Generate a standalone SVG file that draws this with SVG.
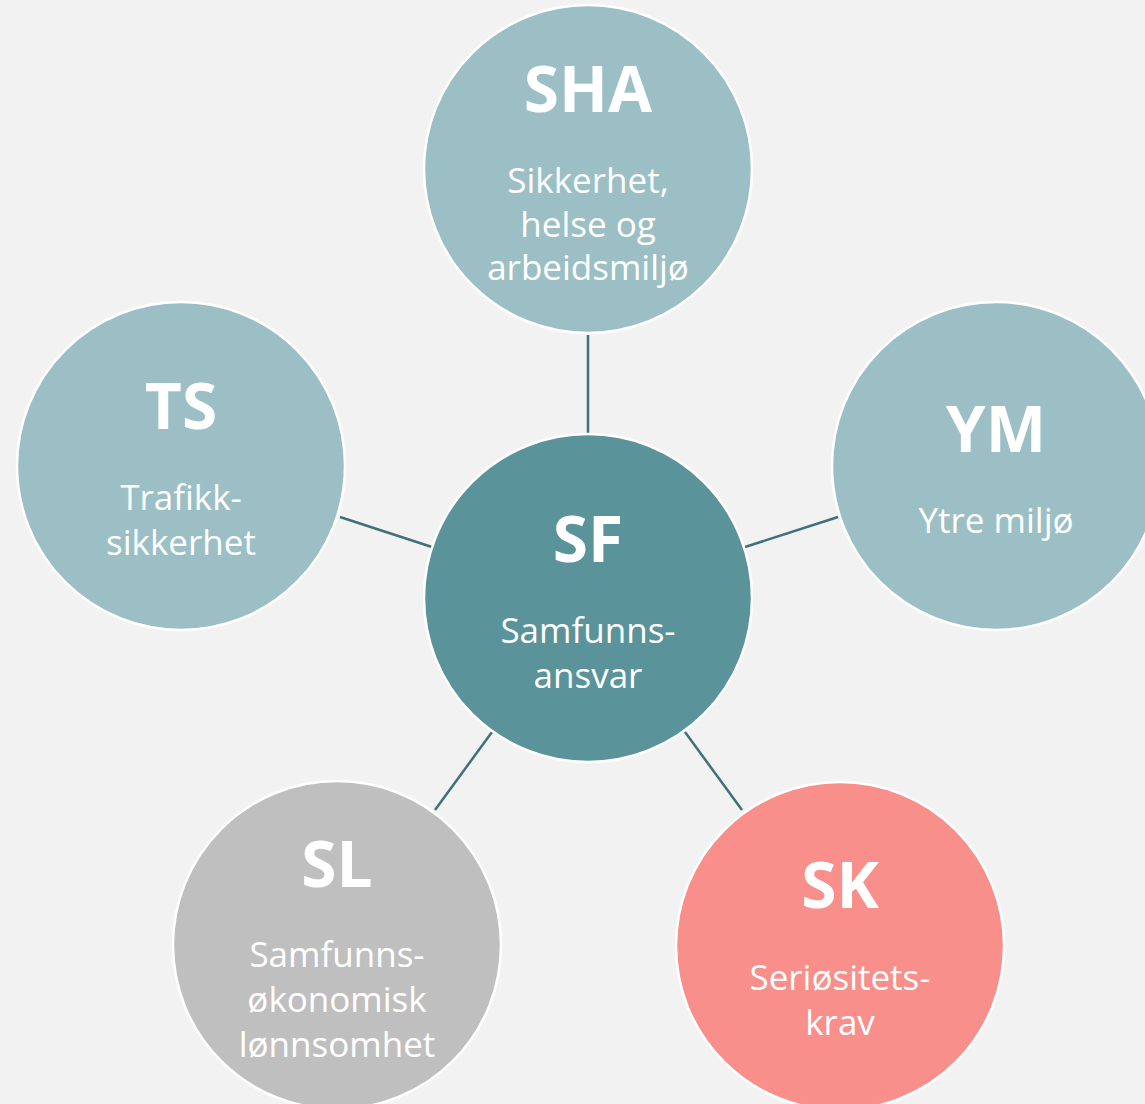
<svg xmlns="http://www.w3.org/2000/svg" width="1145" height="1104" viewBox="0 0 1145 1104">
<style>
.c{stroke:#ffffff;stroke-width:2.5}
.t{font-family:"Open Sans","Noto Sans","Liberation Sans",sans-serif;font-weight:700;font-size:64px;fill:#ffffff;text-anchor:middle}
.s{font-family:"Open Sans","Noto Sans","Liberation Sans",sans-serif;font-weight:400;font-size:35px;fill:#ffffff;text-anchor:middle}
.l{stroke:#3f7178;stroke-width:2.5;fill:none}
</style>
<rect x="0" y="0" width="1145" height="1104" fill="#f2f2f2"/>
<g id="connectors">
<line class="l" x1="588" y1="335" x2="588" y2="434"/>
<line class="l" x1="340" y1="517" x2="432" y2="547"/>
<line class="l" x1="745" y1="547" x2="838" y2="517"/>
<line class="l" x1="435" y1="810" x2="492" y2="732"/>
<line class="l" x1="685" y1="732" x2="742" y2="810"/>
</g>
<g id="SHA">
<circle class="c" cx="588" cy="169" r="164" fill="#9bbfc5"/>
<text class="t" x="588" y="112">SHA</text>
<text class="s" x="588" y="193">Sikkerhet,</text>
<text class="s" x="588" y="237">helse og</text>
<text class="s" x="588" y="280">arbeidsmiljø</text>
</g>
<g id="TS">
<circle class="c" cx="181" cy="466" r="164" fill="#9bbfc5"/>
<text class="t" x="181" y="429">TS</text>
<text class="s" x="181" y="510">Trafikk-</text>
<text class="s" x="181" y="555">sikkerhet</text>
</g>
<g id="YM">
<circle class="c" cx="996" cy="466" r="164" fill="#9bbfc5"/>
<text class="t" x="996" y="452">YM</text>
<text class="s" x="996" y="533">Ytre miljø</text>
</g>
<g id="SF">
<circle class="c" cx="588" cy="598" r="164" fill="#5a9399"/>
<text class="t" x="588" y="562">SF</text>
<text class="s" x="588" y="643">Samfunns-</text>
<text class="s" x="588" y="688">ansvar</text>
</g>
<g id="SL">
<circle class="c" cx="337" cy="945" r="164" fill="#bfbfbf"/>
<text class="t" x="337" y="887">SL</text>
<text class="s" x="337" y="967">Samfunns-</text>
<text class="s" x="337" y="1012">økonomisk</text>
<text class="s" x="337" y="1057">lønnsomhet</text>
</g>
<g id="SK">
<circle class="c" cx="840" cy="946" r="164" fill="#f98f8a"/>
<text class="t" x="840" y="908">SK</text>
<text class="s" x="840" y="990">Seriøsitets-</text>
<text class="s" x="840" y="1035">krav</text>
</g>
</svg>
